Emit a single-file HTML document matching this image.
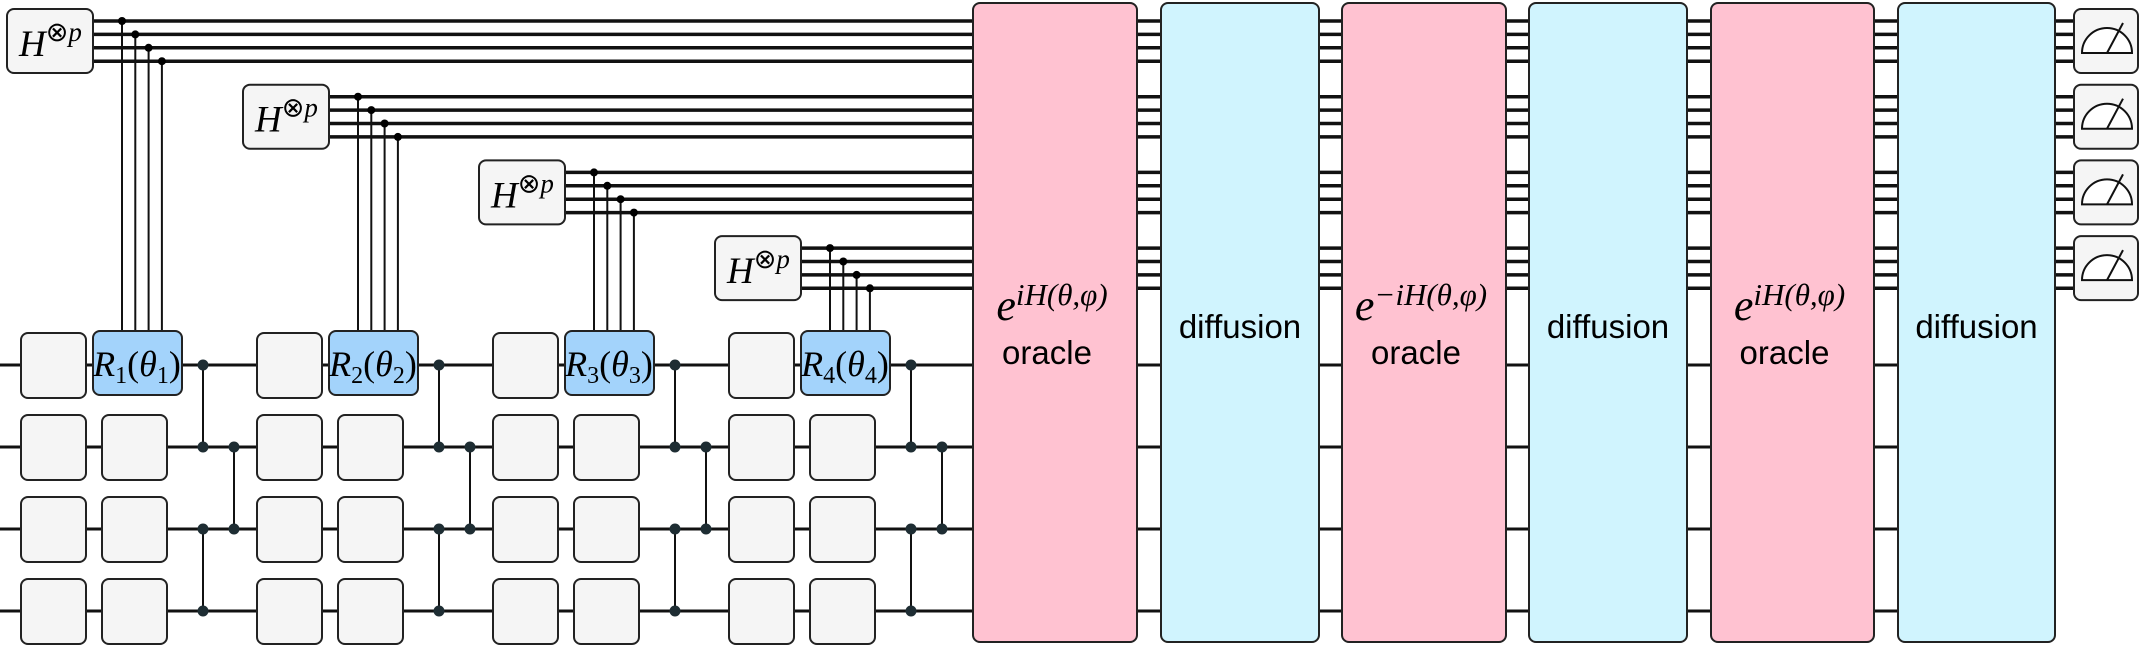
<!DOCTYPE html>
<html><head><meta charset="utf-8"><style>
html,body{margin:0;padding:0;background:#fff}
svg{display:block}
.m{font-family:"Liberation Serif",serif;font-style:italic}
.s{font-family:"Liberation Sans",sans-serif}
</style></head><body>
<svg id="c" width="2145" height="649" viewBox="0 0 2145 649" xmlns="http://www.w3.org/2000/svg">
<g id="wires"></g>
<g id="gates"></g>
</svg>
<script>
const qubitY = [365, 447, 529, 611];
const groupDX = 236, groupDY = 75.7;
const blocks = [
  {type:'oracle', x0:973, x1:1137, sign:''},
  {type:'diffusion', x0:1161, x1:1319},
  {type:'oracle', x0:1342, x1:1506, sign:'\u2212'},
  {type:'diffusion', x0:1529, x1:1687},
  {type:'oracle', x0:1711, x1:1874, sign:''},
  {type:'diffusion', x0:1898, x1:2055}
];
const NS = 'http://www.w3.org/2000/svg';
const W = document.getElementById('wires'), G = document.getElementById('gates');
function mk(tag, attrs, parent, name){
  const e = document.createElementNS(NS, tag);
  for (const k in attrs) e.setAttribute(k, attrs[k]);
  
  
  parent.appendChild(e); return e;
}
function line(x1,y1,x2,y2,w,name,p){ return mk('line',{x1,y1,x2,y2,stroke:'#111','stroke-width':w},p||W,name); }
function box(x,y,w,h,fill,name){ return mk('rect',{x,y,width:w,height:h,rx:7,fill,stroke:'#222','stroke-width':2},G,name); }
function dot(x,y,r,fill,name){ return mk('circle',{cx:x,cy:y,r,fill:fill||'#1e2d33'},G,name); }

qubitY.forEach((y,i)=> line(0,y,2050,y,3,'qubit-wire-'+i));
for (let k=0;k<4;k++){
  const hx = 7+groupDX*k, hy = 9+groupDY*k;
  for (let j=0;j<4;j++){
    const y = hy+12+13.4*j;
    line(hx+80,y,2080,y,3.5,'register-wire-'+k+'-'+j);
    const vx = hx+115+13.3*j;
    line(vx,y,vx,331,2,'control-line-'+k+'-'+j);
  }
}
blocks.forEach((b,i)=>{
  box(b.x0,3,b.x1-b.x0,639,b.type==='oracle'?'#ffc2d1':'#d0f4fe',b.type+'-block-'+i);
  const cx=(b.x0+b.x1)/2;
  if (b.type==='oracle'){
    const t=mk('text',{x:cx-3,y:320,'text-anchor':'middle','font-size':44},G,'oracle-exponent-label');
    t.setAttribute('class','m');
    t.innerHTML='e<tspan dy="-15" font-size="31">'+b.sign+'iH(θ,φ)</tspan>';
    const o=mk('text',{x:cx-8,y:364,'text-anchor':'middle','font-size':33},G,'oracle-label');
    o.setAttribute('class','s'); o.textContent='oracle';
  } else {
    const d=mk('text',{x:cx,y:338,'text-anchor':'middle','font-size':33},G,'diffusion-label');
    d.setAttribute('class','s'); d.textContent='diffusion';
  }
});
for (let k=0;k<4;k++){
  const ox = groupDX*k, hx = 7+ox, hy = 9+groupDY*k;
  box(hx,hy,86,64,'#f5f5f5','hadamard-box-'+(k+1));
  const t=mk('text',{x:hx+12,y:hy+47,'font-size':37},G,'hadamard-label');
  t.setAttribute('class','m');
  t.innerHTML='H<tspan dy="-15" font-size="27" font-style="normal">⊗</tspan><tspan font-size="27">p</tspan>';
  for (let j=0;j<4;j++) dot(hx+115+13.3*j, hy+12+13.4*j, 4, '#000','control-dot');
  qubitY.forEach((y,i)=>{
    box(21+ox,y-32,65,65,'#f5f5f5','gate-box');
    if (i>0) box(102+ox,y-32,65,65,'#f5f5f5','gate-box');
  });
  box(93+ox,331,89,64,'#a3d3fb','rotation-gate-'+(k+1));
  const r=mk('text',{x:137+ox,y:376,'text-anchor':'middle','font-size':36},G,'rotation-label');
  r.setAttribute('class','m');
  r.innerHTML='R<tspan dy="7" font-size="24" font-style="normal">'+(k+1)+'</tspan><tspan dy="-7" font-style="normal">(</tspan>θ<tspan dy="7" font-size="24" font-style="normal">'+(k+1)+'</tspan><tspan dy="-7" font-style="normal">)</tspan>';
  const xa=203+ox, xb=234+ox;
  line(xa,qubitY[0],xa,qubitY[1],2,'cz-line',G);
  line(xa,qubitY[2],xa,qubitY[3],2,'cz-line',G);
  line(xb,qubitY[1],xb,qubitY[2],2,'cz-line',G);
  [[xa,0],[xa,1],[xa,2],[xa,3],[xb,1],[xb,2]].forEach(p=>dot(p[0],qubitY[p[1]],5.5,null,'cz-dot'));
}
for (let k=0;k<4;k++){
  const y=9+groupDY*k;
  box(2074,y,64,64,'#f5f5f5','measurement-'+(k+1));
  mk('path',{d:`M2082 ${y+44} A25 25 0 0 1 2132 ${y+44} Z`,fill:'#fff',stroke:'#111','stroke-width':2},G,'meter-arc');
  line(2107,y+44,2123,y+14,2,'meter-needle',G);
}
</script>
</body></html>
